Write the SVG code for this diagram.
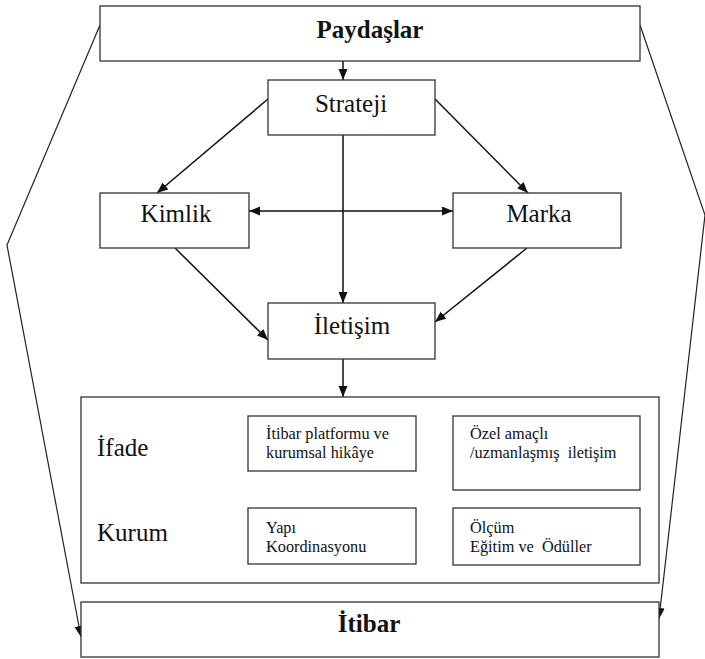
<svg xmlns="http://www.w3.org/2000/svg" width="705" height="659" viewBox="0 0 705 659">
<style>
.box{fill:#fff;stroke:#333;stroke-width:1.3}
text{font-family:'Liberation Serif','Times New Roman',Tinos,'DejaVu Serif',serif;fill:#111}
.big{font-size:25px}
.bold{font-weight:bold}
.sm{font-size:16.3px}
.c{stroke:#111;stroke-width:1.5;fill:none}
.o{stroke:#222;stroke-width:1.2;fill:none}
</style>
<defs>
<marker id="ah" markerUnits="userSpaceOnUse" markerWidth="12" markerHeight="10" refX="11" refY="4.5" orient="auto-start-reverse">
<path d="M0,0 L11,4.5 L0,9 z" fill="#111"/>
</marker>
</defs>
<rect width="705" height="659" fill="#fff"/>
<g id="connectors">
<line class="c" x1="343" y1="61" x2="343" y2="80" marker-end="url(#ah)"/>
<line class="c" x1="268" y1="99" x2="157" y2="193" marker-end="url(#ah)"/>
<line class="c" x1="435" y1="99" x2="528" y2="193" marker-end="url(#ah)"/>
<line class="c" x1="343" y1="134" x2="343" y2="303" marker-end="url(#ah)"/>
<line class="c" x1="249" y1="211" x2="453" y2="211" marker-start="url(#ah)" marker-end="url(#ah)"/>
<line class="c" x1="175" y1="248" x2="268" y2="340" marker-end="url(#ah)"/>
<line class="c" x1="527" y1="248" x2="435" y2="322" marker-end="url(#ah)"/>
<line class="c" x1="343" y1="359" x2="343" y2="397" marker-end="url(#ah)"/>
<polyline class="o" points="100,25 7,245 81,637" marker-end="url(#ah)"/>
<polyline class="o" points="640,25 705,215 659,619" marker-end="url(#ah)"/>
</g>
<g id="paydaslar">
<rect class="box" x="100" y="6" width="540" height="55"/>
<text class="big bold" font-family="Liberation Serif, serif" x="370" y="38" text-anchor="middle">Paydaşlar</text>
</g>
<g id="strateji">
<rect class="box" x="268" y="80" width="167" height="55"/>
<text class="big" font-family="Liberation Serif, serif" x="351" y="112" text-anchor="middle">Strateji</text>
</g>
<g id="kimlik">
<rect class="box" x="100" y="193" width="149" height="55"/>
<text class="big" font-family="Liberation Serif, serif" x="176" y="222" text-anchor="middle">Kimlik</text>
</g>
<g id="marka">
<rect class="box" x="453" y="193" width="168" height="55"/>
<text class="big" font-family="Liberation Serif, serif" x="539" y="222" text-anchor="middle">Marka</text>
</g>
<g id="iletisim">
<rect class="box" x="268" y="303" width="167" height="56"/>
<text class="big" font-family="Liberation Serif, serif" x="352" y="334" text-anchor="middle">İletişim</text>
</g>
<g id="ifade-kurum">
<rect class="box" x="81" y="397" width="578" height="186"/>
<text class="big" font-family="Liberation Serif, serif" x="97" y="456">İfade</text>
<text class="big" font-family="Liberation Serif, serif" x="97" y="541">Kurum</text>
</g>
<g id="itibar-platformu">
<rect class="box" x="248" y="416" width="168" height="55"/>
<text class="sm" font-family="Liberation Serif, serif" x="266" y="439">İtibar platformu ve</text>
<text class="sm" font-family="Liberation Serif, serif" x="266" y="458">kurumsal hikâye</text>
</g>
<g id="ozel-amacli">
<rect class="box" x="453" y="416" width="187" height="74"/>
<text class="sm" font-family="Liberation Serif, serif" x="470" y="439">Özel amaçlı</text>
<text class="sm" font-family="Liberation Serif, serif" x="470" y="458" xml:space="preserve">/uzmanlaşmış  iletişim</text>
</g>
<g id="yapi">
<rect class="box" x="248" y="508" width="168" height="56"/>
<text class="sm" font-family="Liberation Serif, serif" x="266" y="533">Yapı</text>
<text class="sm" font-family="Liberation Serif, serif" x="266" y="552">Koordinasyonu</text>
</g>
<g id="olcum">
<rect class="box" x="453" y="508" width="187" height="57"/>
<text class="sm" font-family="Liberation Serif, serif" x="470" y="533">Ölçüm</text>
<text class="sm" font-family="Liberation Serif, serif" x="470" y="552" xml:space="preserve">Eğitim ve  Ödüller</text>
</g>
<g id="itibar">
<rect class="box" x="81" y="602" width="578" height="55"/>
<text class="big bold" font-family="Liberation Serif, serif" x="369" y="632" text-anchor="middle">İtibar</text>
</g>
</svg>
